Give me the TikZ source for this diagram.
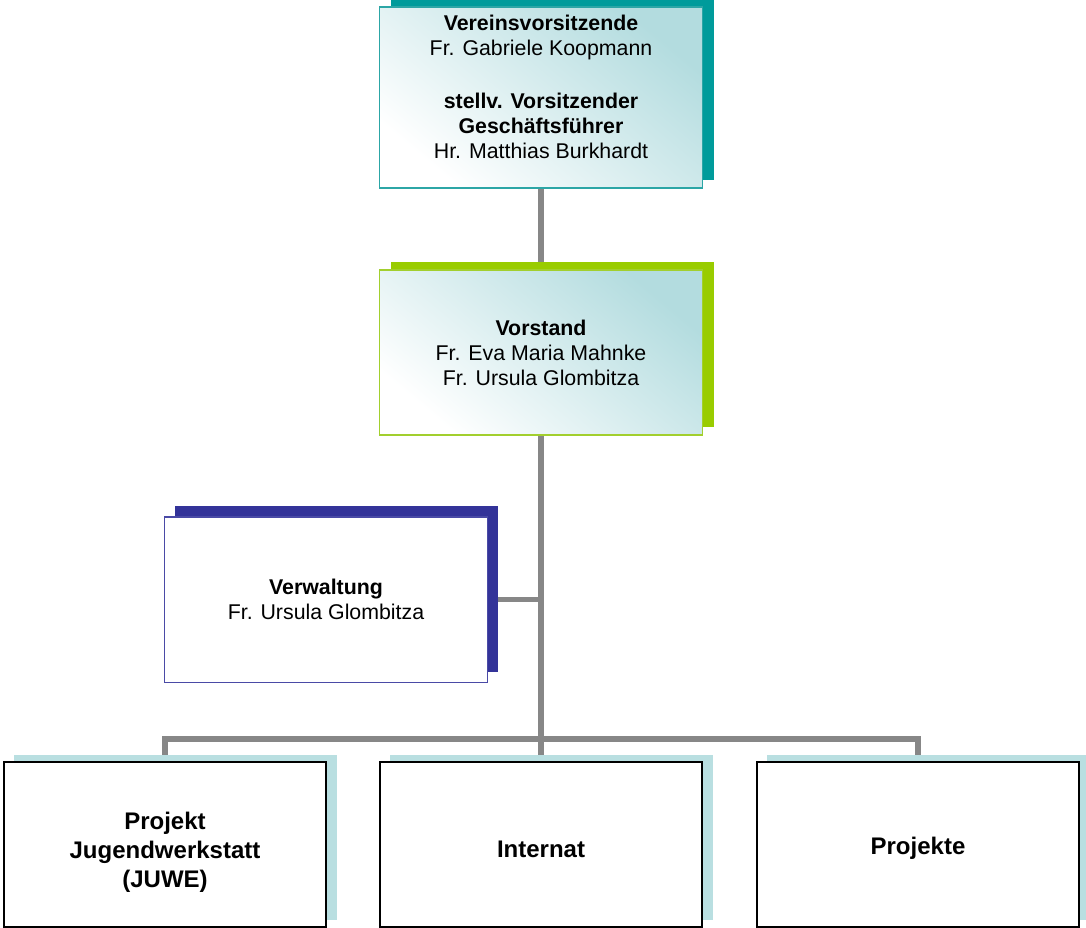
\documentclass[tikz,border=0pt]{standalone}
\usepackage{fontspec}
\setmainfont{Liberation Sans}
\usetikzlibrary{shadows,backgrounds}

\definecolor{chairline}{HTML}{2CA6A6}
\definecolor{chairshadow}{HTML}{009B9B}
\definecolor{boardline}{HTML}{A2CF2E}
\definecolor{boardshadow}{HTML}{99CC00}
\definecolor{adminline}{HTML}{4A4AA6}
\definecolor{adminshadow}{HTML}{333399}
\definecolor{unitshadow}{HTML}{B9DFE1}
\definecolor{softteal}{HTML}{B3DCDF}
\definecolor{linkgray}{HTML}{878787}

\tikzset{
  orgbox/.style={draw, align=center, inner sep=2pt,
    minimum width=242pt, minimum height=124pt,
    font=\fontsize{16}{18.75}\selectfont},
  tealfade/.style={top color=softteal, middle color=softteal!30!white,
    bottom color=white, shading angle=-40},
  chairbox/.style={orgbox, tealfade, draw=chairline, line width=1.2pt,
    minimum height=136pt,
    general shadow={fill=chairshadow, shadow xshift=8.5pt, shadow yshift=6pt}},
  boardbox/.style={orgbox, tealfade, draw=boardline, line width=1.2pt,
    general shadow={fill=boardshadow, shadow xshift=8.5pt, shadow yshift=6pt}},
  adminbox/.style={orgbox, fill=white, draw=adminline, line width=1pt,
    general shadow={fill=adminshadow, shadow xshift=8pt, shadow yshift=8pt}},
  unitbox/.style={orgbox, fill=white, draw=black, line width=1.4pt,
    font=\fontsize{18}{21.75}\selectfont\bfseries,
    execute at begin node={\rule{0pt}{19pt}},
    general shadow={fill=unitshadow, shadow xshift=8pt, shadow yshift=5.5pt}},
  link/.style={draw=linkgray, line width=4.2pt, line join=miter}
}

\begin{document}
\begin{tikzpicture}[x=0.75pt, y=-0.75pt]
  \useasboundingbox (0,0) rectangle (1086,928);

  % leitung oben
  \node[chairbox] (chair) at (541,97.5)
    {\textbf{Vereinsvorsitzende}\\Fr. Gabriele Koopmann\\ \strut\\[2.5pt]
     \textbf{stellv. Vorsitzender}\\\textbf{Geschäftsführer}\\
     Hr. Matthias Burkhardt\\[-8pt] \strut};
  \node[boardbox] (board) at (541,352.5)
    {\textbf{Vorstand}\\Fr. Eva Maria Mahnke\\Fr. Ursula Glombitza};
  \node[adminbox] (admin) at (326,599.5)
    {\textbf{Verwaltung}\\Fr. Ursula Glombitza};

  % bereiche unten
  \node[unitbox] (juwe) at (165,844.5)
    {\strut\\[-12.5pt]Projekt\\Jugendwerkstatt\\(JUWE)};
  \node[unitbox] (internat) at (541,844.5) {Internat};
  \node[unitbox] (projekte) at (918,844.5) {Projekte};

  \coordinate (bus) at (541,739);

  \begin{scope}[on background layer]
    \draw[link] (chair.south) -- (board.north);
    \draw[link] (board.south) -- (internat.north);
    \draw[link] (admin.east) -- (admin.east -| board.south);
    \draw[link] (juwe.north) |- (bus) -| (projekte.north);
  \end{scope}
\end{tikzpicture}
\end{document}
